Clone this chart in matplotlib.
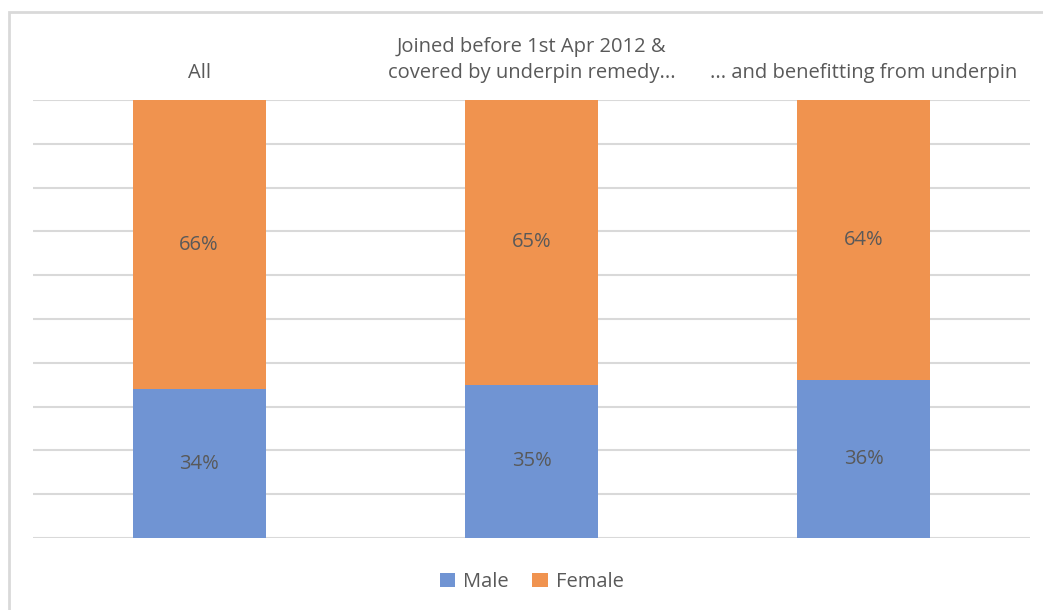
import matplotlib.pyplot as plt
from matplotlib.patches import Rectangle
import numpy as np

categories = ["All", "Joined before 1st Apr 2012 &\ncovered by underpin remedy...", "... and benefitting from underpin"]
male = [34, 35, 36]
female = [66, 65, 64]

blue = "#7094D3"
orange = "#F0934F"
text_col = "#595959"
plt.rcParams["font.family"] = ["Open Sans", "DejaVu Sans"]

fig = plt.figure(figsize=(10.43, 6.10), dpi=100)
# chart border (light gray, runs off the right and bottom)
fig.patches.append(Rectangle((9 / 1043, -0.05), 1.1, (610 - 12) / 610 + 0.05,
                             transform=fig.transFigure, fill=False,
                             edgecolor="#D9D9D9", linewidth=2))

ax = fig.add_axes([33 / 1043, (610 - 538) / 610, (1030 - 33) / 1043, (538 - 100) / 610])
x = np.arange(len(categories))
ax.bar(x, male, width=0.4, color=blue, label="Male", zorder=3)
ax.bar(x, female, width=0.4, bottom=male, color=orange, label="Female", zorder=3)

for i in range(len(x)):
    ax.text(x[i], male[i] / 2, f"{male[i]}%", ha="center", va="center", fontsize=14.5, color=text_col, zorder=4)
    ax.text(x[i], male[i] + female[i] / 2, f"{female[i]}%", ha="center", va="center", fontsize=14.5, color=text_col, zorder=4)

ax.set_xlim(-0.5, 2.5)
ax.set_ylim(0, 100)
ax.set_yticks(np.arange(0, 101, 10))
ax.set_yticklabels([])
ax.xaxis.tick_top()
ax.set_xticks(x)
ax.set_xticklabels(categories, fontsize=14.5, color=text_col, linespacing=1.4)
ax.tick_params(axis="both", length=0)
ax.tick_params(axis="x", pad=12)
ax.grid(axis="y", color="#D9D9D9", linewidth=1.5, zorder=0)
for s in ax.spines.values():
    s.set_visible(False)

ax.legend(loc="lower center", bbox_to_anchor=(0.5, -0.165), ncol=2, frameon=False,
          fontsize=14.5, labelcolor=text_col, handlelength=0.75, handleheight=0.75,
          handletextpad=0.4, columnspacing=1.2)

plt.savefig("out.png", dpi=100)
